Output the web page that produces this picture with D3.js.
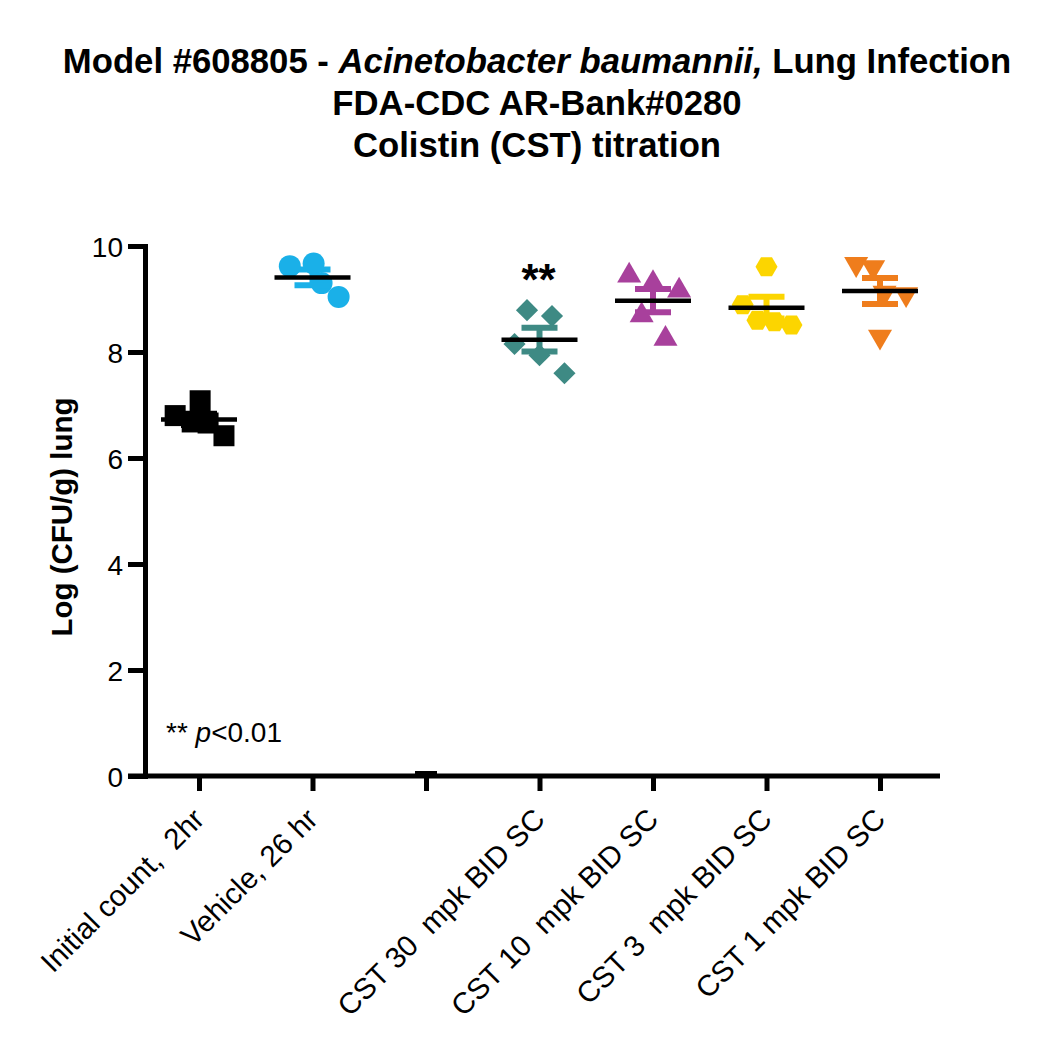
<!DOCTYPE html>
<html>
<head>
<meta charset="utf-8">
<script src="https://cdn.jsdelivr.net/npm/d3@7"></script>
<style>
  body { margin: 0; background: #fff; }
  text { font-family: "Liberation Sans", Arial, sans-serif; fill: #000; }
</style>
</head>
<body>
<div id="chart"></div>
<script>
// group labels (the third slot is an empty group)
var categories = ["Initial count,  2hr", "Vehicle, 26 hr", "", "CST 30  mpk BID SC",
    "CST 10  mpk BID SC", "CST 3  mpk BID SC", "CST 1 mpk BID SC"];

// Log CFU/g values per group
var initialCount = [6.80, 7.08, 6.68, 6.66, 6.42];
var vehicle = [9.62, 9.67, 9.30, 9.04];
var blank = [];
var cst30 = [8.79, 8.68, 8.15, 7.94, 7.60];
var cst10 = [9.44, 9.30, 9.16, 8.69, 8.25];
var cst3 = [9.61, 8.89, 8.60, 8.57, 8.51];
var cst1 = [9.66, 9.60, 9.09, 8.29, 9.12];

// horizontal scatter of each point, in category steps
var initialJitter = [-0.21, 0.01, -0.06, 0.08, 0.22];
var vehicleJitter = [-0.20, 0.01, 0.08, 0.23];
var cst30Jitter = [-0.11, 0.11, -0.22, 0, 0.22];
var cst10Jitter = [-0.21, 0, 0.23, -0.10, 0.11];
var cst3Jitter = [0, -0.21, -0.08, 0.07, 0.22];
var cst1Jitter = [-0.21, -0.06, 0.23, 0, 0.04];

var yTicks = [0, 2, 4, 6, 8, 10];

var groupValues = [initialCount, vehicle, blank, cst30, cst10, cst3, cst1];
var groupJitter = [initialJitter, vehicleJitter, [], cst30Jitter, cst10Jitter, cst3Jitter, cst1Jitter];
var colors = ["#000000", "#1AB0E8", "#000000", "#3E8A84", "#A8409C", "#FCD500", "#EF7D1C"];

// hexagon with points left and right
var symbolHexagon = {
    draw: function (context, size) {
        var r = Math.sqrt(size / (3 * Math.sqrt(3) / 2));
        for (var i = 0; i < 6; i++) {
            var a = i * Math.PI / 3;
            if (i == 0) context.moveTo(r * Math.cos(a), r * Math.sin(a));
            else context.lineTo(r * Math.cos(a), r * Math.sin(a));
        }
        context.closePath();
    }
};

var shapes = [
    { type: d3.symbolSquare, size: 441, rotate: 0 },
    { type: d3.symbolCircle, size: 380, rotate: 0 },
    null,
    { type: d3.symbolSquare, size: 245, rotate: 45 },
    { type: d3.symbolTriangle, size: 250, rotate: 0 },
    { type: symbolHexagon, size: 314, rotate: 0 },
    { type: d3.symbolTriangle, size: 250, rotate: 180 }
];

var width = 1050, height = 1056;

var svg = d3.select("#chart")
    .append("svg")
    .attr("width", width)
    .attr("height", height);

var x = d3.scalePoint()
    .domain(d3.range(categories.length))
    .range([199, 880]);

var y = d3.scaleLinear()
    .domain([0, 10])
    .range([776, 246]);

// title
var title = svg.append("g")
    .attr("font-weight", "bold")
    .attr("font-size", 34.7)
    .attr("text-anchor", "middle");

var t1 = title.append("text").attr("x", 537).attr("y", 73);
t1.append("tspan").text("Model #608805 - ");
t1.append("tspan").attr("font-style", "italic").text("Acinetobacter baumannii,");
t1.append("tspan").text(" Lung Infection");
title.append("text").attr("x", 537).attr("y", 115).text("FDA-CDC AR-Bank#0280");
title.append("text").attr("x", 537).attr("y", 157).text("Colistin (CST) titration");

// y axis
var yAxis = svg.append("g")
    .attr("transform", "translate(145,0)")
    .call(d3.axisLeft(y).tickValues(yTicks).tickSize(17).tickSizeOuter(0).tickPadding(5));

yAxis.select(".domain").attr("stroke-width", 5).attr("stroke-linecap", "square");
yAxis.selectAll(".tick line").attr("stroke-width", 5);
yAxis.selectAll(".tick text")
    .attr("font-size", 28)
    .attr("font-family", "Liberation Sans, Arial, sans-serif")
    .attr("dy", "0.36em");

svg.append("text")
    .attr("transform", "translate(72,517) rotate(-90)")
    .attr("text-anchor", "middle")
    .attr("font-weight", "bold")
    .attr("font-size", 29.5)
    .text("Log (CFU/g) lung");

// x axis
var xAxis = svg.append("g")
    .attr("transform", "translate(0," + y(0) + ")")
    .call(d3.axisBottom(x).tickSize(15).tickFormat(""));

xAxis.select(".domain").remove();
xAxis.selectAll(".tick line").attr("stroke-width", 5);
xAxis.append("line")
    .attr("x1", 128)
    .attr("x2", 940)
    .attr("stroke", "#000")
    .attr("stroke-width", 5);

svg.selectAll(".xlabel")
    .data(categories)
    .enter()
    .append("text")
    .attr("class", "xlabel")
    .attr("text-anchor", "end")
    .attr("font-size", 29.5)
    .attr("transform", function (d, i) {
        return "translate(" + (x(i) + 7) + ",821) rotate(-45)";
    })
    .style("white-space", "pre")
    .text(function (d) { return d; });

// points
groupValues.forEach(function (vals, i) {
    var shape = shapes[i];
    if (!shape) return;
    var sym = d3.symbol().type(shape.type).size(shape.size);
    svg.append("g")
        .selectAll("path")
        .data(vals)
        .enter()
        .append("path")
        .attr("d", sym)
        .attr("fill", colors[i])
        .attr("transform", function (d, j) {
            var px = x(i) + groupJitter[i][j] * x.step();
            return "translate(" + px + "," + y(d) + ") rotate(" + shape.rotate + ")";
        });
});

// error bars (mean +/- SEM) and mean lines
groupValues.forEach(function (vals, i) {
    var cx = x(i);
    var g = svg.append("g");
    if (vals.length == 0) {
        g.append("line")
            .attr("x1", cx - 11).attr("x2", cx + 11)
            .attr("y1", y(0) - 1.5).attr("y2", y(0) - 1.5)
            .attr("stroke", "#000").attr("stroke-width", 7);
        return;
    }
    var m = d3.mean(vals);
    var sem = d3.deviation(vals) / Math.sqrt(vals.length);
    g.append("line")
        .attr("x1", cx).attr("x2", cx)
        .attr("y1", y(m + sem)).attr("y2", y(m - sem))
        .attr("stroke", colors[i]).attr("stroke-width", 6);
    [m + sem, m - sem].forEach(function (v) {
        g.append("line")
            .attr("x1", cx - 18).attr("x2", cx + 18)
            .attr("y1", y(v)).attr("y2", y(v))
            .attr("stroke", colors[i]).attr("stroke-width", 6);
    });
    g.append("line")
        .attr("x1", cx - 38).attr("x2", cx + 38)
        .attr("y1", y(m)).attr("y2", y(m))
        .attr("stroke", "#000").attr("stroke-width", 4.5);
});

// significance mark
svg.append("text")
    .attr("x", x(3) - 1)
    .attr("y", 295)
    .attr("text-anchor", "middle")
    .attr("font-weight", "bold")
    .attr("font-size", 44)
    .text("**");

var pText = svg.append("text")
    .attr("x", 166)
    .attr("y", 742)
    .attr("font-size", 28);
pText.append("tspan").text("** ");
pText.append("tspan").attr("font-style", "italic").text("p");
pText.append("tspan").text("<0.01");
</script>
</body>
</html>
